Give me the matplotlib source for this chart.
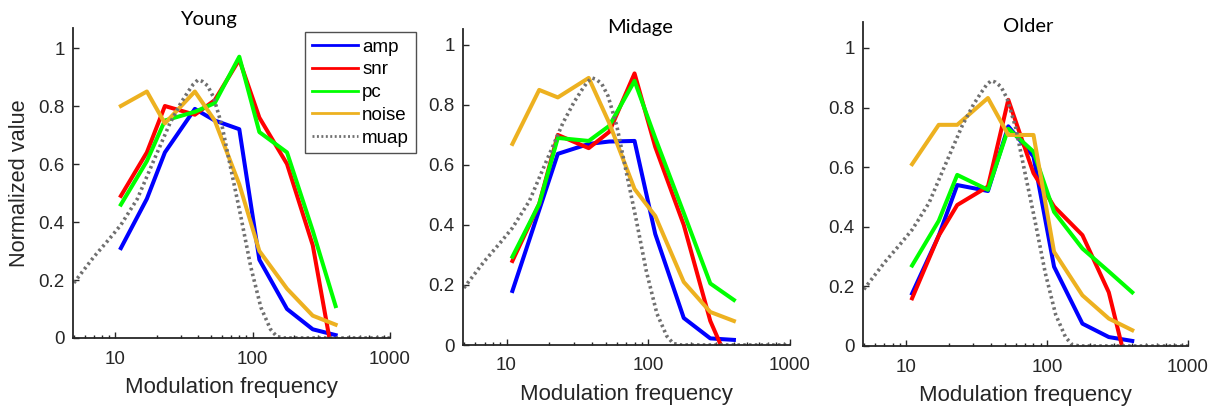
import numpy as np
import matplotlib.pyplot as plt

# modulation frequencies of the measured points (Hz)
freq = [11, 17, 23, 38, 53, 80, 112, 178, 274, 402]

# normalized values per age group
young_amp = [0.31, 0.48, 0.64, 0.79, 0.75, 0.72, 0.27, 0.10, 0.03, 0.01]
young_snr = [0.49, 0.64, 0.80, 0.77, 0.82, 0.96, 0.76, 0.60, 0.32, -0.12]
young_pc = [0.46, 0.61, 0.75, 0.78, 0.81, 0.97, 0.71, 0.64, 0.37, 0.11]
young_noise = [0.80, 0.85, 0.74, 0.85, 0.75, 0.53, 0.30, 0.17, 0.077, 0.046]

midage_amp = [0.18, 0.45, 0.637, 0.67, 0.678, 0.68, 0.37, 0.09, 0.022, 0.017]
midage_snr = [0.28, 0.47, 0.70, 0.656, 0.71, 0.905, 0.66, 0.40, 0.08, -0.10]
midage_pc = [0.294, 0.47, 0.69, 0.68, 0.73, 0.88, 0.69, 0.44, 0.205, 0.15]
midage_noise = [0.67, 0.85, 0.825, 0.89, 0.74, 0.52, 0.43, 0.21, 0.11, 0.08]

older_amp = [0.176, 0.37, 0.54, 0.52, 0.737, 0.636, 0.266, 0.075, 0.03, 0.017]
older_snr = [0.16, 0.37, 0.473, 0.535, 0.826, 0.58, 0.468, 0.372, 0.18, -0.14]
older_pc = [0.27, 0.42, 0.574, 0.524, 0.729, 0.652, 0.45, 0.327, 0.25, 0.18]
older_noise = [0.61, 0.742, 0.742, 0.832, 0.708, 0.708, 0.316, 0.17, 0.092, 0.053]

# MUAP spectrum (same for all groups)
muap_freq = [5, 7, 9, 11, 14.5, 19, 25, 30, 34, 37, 40, 43, 47, 52, 60, 69, 82, 97,
             115, 135, 150, 170, 1000]
muap_val = [0.19, 0.28, 0.34, 0.39, 0.48, 0.61, 0.74, 0.81, 0.85, 0.875, 0.89, 0.885,
            0.87, 0.83, 0.73, 0.59, 0.42, 0.245, 0.105, 0.03, 0.005, 0.0, 0.0]

groups = ["Young", "Midage", "Older"]
series = [
    [young_amp, young_snr, young_pc, young_noise],
    [midage_amp, midage_snr, midage_pc, midage_noise],
    [older_amp, older_snr, older_pc, older_noise],
]
names = ["amp", "snr", "pc", "noise"]
colors = ["#0000ff", "#ff0000", "#00ff00", "#edb120"]

W, H = 1223, 408
# axes boxes in pixels: left, right, bottom, top
boxes = [(73, 390, 338, 28), (463, 790, 345, 29), (863, 1188, 346, 22)]
ytops = [1.069, 1.053, 1.087]
title_pos = [(208, 20), (640, 27), (1028, 27)]

plt.rcParams['font.family'] = ['Liberation Sans', 'DejaVu Sans']
ink = '#262626'
tick_font = dict(fontsize=13.5, color=ink)

fig = plt.figure(figsize=(W / 100, H / 100), dpi=100)

for k, (l, r, b, t) in enumerate(boxes):
    ax = fig.add_axes([l / W, 1 - b / H, (r - l) / W, (b - t) / H])
    for vals, name, c in zip(series[k], names, colors):
        ax.plot(freq, vals, color=c, lw=2.9, label=name)
    ax.plot(muap_freq, muap_val, color='#707070', lw=2.6,
            linestyle=(0, (0.7, 0.9)), label='muap')

    ax.set_xscale('log')
    ax.set_xlim(4.93, 1000)
    ax.set_ylim(0, ytops[k])
    ax.set_xticks([10, 100, 1000])
    ax.set_xticklabels(['10', '100', '1000'], **tick_font)
    ax.set_yticks([0, 0.2, 0.4, 0.6, 0.8, 1])
    ax.set_yticklabels(['0', '0.2', '0.4', '0.6', '0.8', '1'], **tick_font)
    for s in ['top', 'right']:
        ax.spines[s].set_visible(False)
    for s in ['left', 'bottom']:
        ax.spines[s].set_color(ink)
        ax.spines[s].set_linewidth(1.3)
    ax.tick_params(which='major', direction='in', length=4, width=1, color=ink, pad=6)
    ax.tick_params(which='minor', direction='in', length=2.5, width=1, color=ink)
    ax.tick_params(axis='x', which='major', pad=9)
    ax.set_xlabel('Modulation frequency', fontsize=16, color=ink, labelpad=7)

    tx, ty = title_pos[k]
    fig.text(tx / W, 1 - ty / H, groups[k], family='Lato', fontsize=14.5,
             ha='center', va='center', color='black')

    if k == 0:
        ax.set_ylabel('Normalized value', fontsize=15.7, color=ink, labelpad=6)
        leg = ax.legend(loc='upper left', bbox_to_anchor=(305 / W, 1 - 32 / H),
                        bbox_transform=fig.transFigure, borderaxespad=0,
                        fancybox=False, framealpha=1, edgecolor='#505050',
                        fontsize=13.5, handlelength=2.45, handletextpad=0.25,
                        labelspacing=0.3, borderpad=0.35)
        leg.get_frame().set_linewidth(1.0)
        for ln in leg.get_lines():
            ln.set_linewidth(2.0)

fig.savefig('out.png', dpi=100)
